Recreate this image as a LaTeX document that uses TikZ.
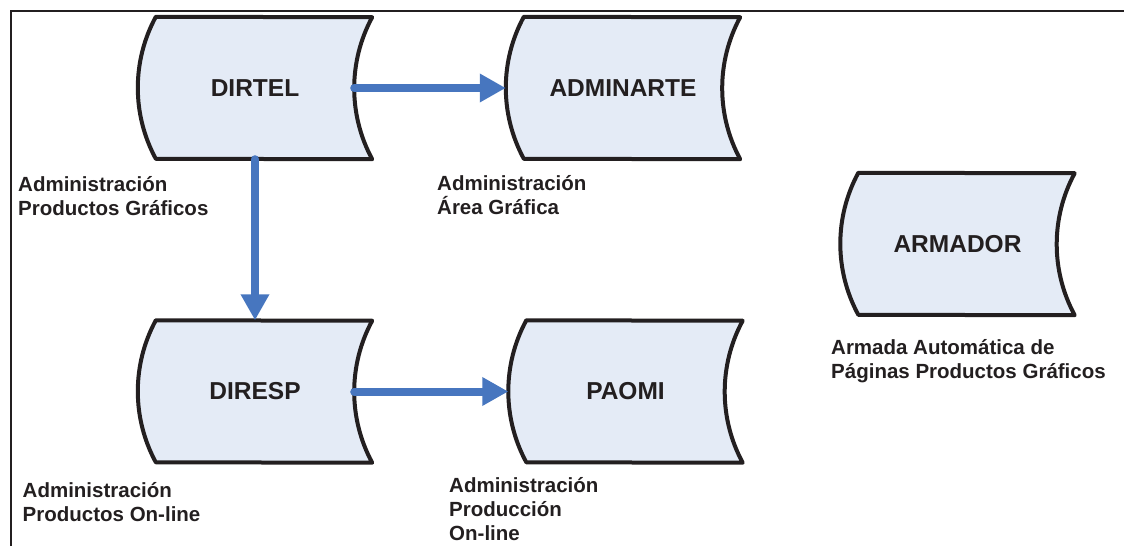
\documentclass[tikz,border=0pt]{standalone}
\usepackage{fontspec}
\setmainfont{Liberation Sans}
\usetikzlibrary{arrows.meta,calc,backgrounds}
\definecolor{ink}{RGB}{35,31,32}
\definecolor{boxfill}{RGB}{228,235,246}
\definecolor{flow}{RGB}{71,118,191}
\tikzset{
  store/.style={minimum width=234pt, minimum height=142pt, inner sep=0pt,
    font=\fontsize{24.5}{28}\selectfont\bfseries, text=ink},
  storeline/.style={draw=ink, fill=boxfill, line width=4pt, line join=round},
  % anchored at the baseline of the last line
  note/.style={anchor=base west, align=left, inner sep=0pt,
    font=\fontsize{20.5}{24}\selectfont\bfseries, text=ink},
  flowarrow/.style={draw=flow, line width=8pt, line cap=round,
    -{Triangle[length=26pt,width=27pt]}},
  frameline/.style={draw=ink, line width=2pt},
}
\begin{document}
\begin{tikzpicture}[x=1pt,y=1pt]
\useasboundingbox (0,0) rectangle (1124,-546);

% outer frame (top and left edges)
\draw[frameline] (11,-546) -- (11,-11) -- (1124,-11);

% stored-data blocks
\node[store] (dirtel)    at (255,-88)      {DIRTEL};
\node[store] (adminarte) at (623,-88)      {ADMINARTE};
\node[store] (armador)   at (957.5,-244)   {ARMADOR};
\node[store] (diresp)    at (255,-391.5)   {DIRESP};
\node[store] (paomi)     at (625.5,-391.5) {PAOMI};

\begin{scope}[on background layer]
  \foreach \n in {dirtel,adminarte,armador,diresp,paomi} {
    \path[storeline] ($(\n.north west)+(18,0)$)
      arc[start angle=151.54, end angle=208.46, radius=149pt]
      -- (\n.south east)
      arc[start angle=208.46, end angle=151.54, radius=149pt]
      -- cycle;
    \coordinate (\n-r) at ($(\n.east)+(-18,0)$);
  }
\end{scope}

% flows between blocks
\draw[flowarrow] (dirtel-r) -- (adminarte.west);
\draw[flowarrow] (dirtel.south) -- (diresp.north);
\draw[flowarrow] (diresp-r) -- (paomi.west);

% descriptions
\node[note] (d-dirtel)    at (18,-215)   {Administración\\Productos Gráficos};
\node[note] (d-adminarte) at (437,-214)  {Administración\\Área Gráfica};
\node[note] (d-armador)   at (831,-378)  {Armada Automática de\\Páginas Productos Gráficos};
\node[note] (d-diresp)    at (22.5,-521.5) {Administración\\Productos On-line};
\node[note] (d-paomi)     at (449,-540.5)  {Administración\\Producción\\On-line};
\end{tikzpicture}
\end{document}
